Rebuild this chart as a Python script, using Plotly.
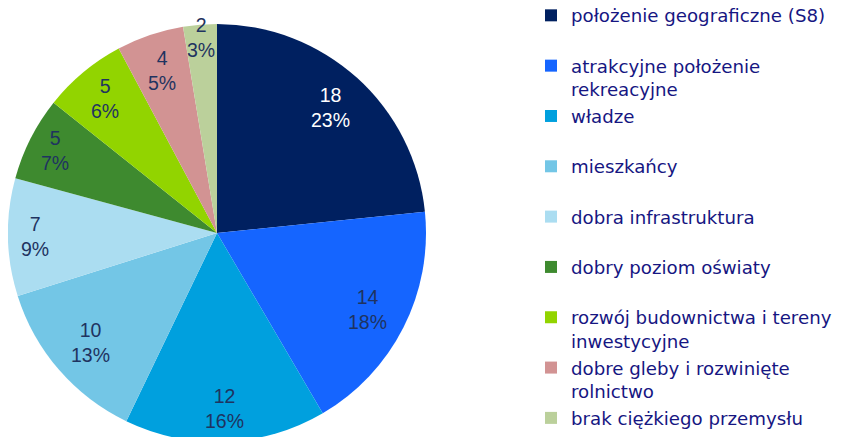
import math
import plotly.graph_objects as go

# ---- data ----
categories = [
    "położenie geograficzne (S8)",
    "atrakcyjne położenie<br>rekreacyjne",
    "władze",
    "mieszkańcy",
    "dobra infrastruktura",
    "dobry poziom oświaty",
    "rozwój budownictwa i tereny<br>inwestycyjne",
    "dobre gleby i rozwinięte<br>rolnictwo",
    "brak ciężkiego przemysłu",
]
values = [18, 14, 12, 10, 7, 5, 5, 4, 2]
percent_labels = ["23%", "18%", "16%", "13%", "9%", "7%", "6%", "5%", "3%"]

# ---- style ----
colors = ["#002060", "#1565FF", "#00A0DE", "#73C6E6", "#ABDDF1",
          "#3E8A2F", "#92D400", "#D29393", "#BBD09B"]
label_colors = ["#FFFFFF"] + ["#1F3360"] * 8
label_radius = [0.81, 0.81, 0.84, 0.80, 0.87, 0.87, 0.84, 0.82, 0.94]

W, H = 841, 437
OFF = 8                       # page body margin of the html page
CX, CY, R = 217 - OFF, 233 - OFF, 209   # pie centre / radius in figure pixels

# make every legend entry two lines tall so entries are evenly spaced
legend_names = [c if "<br>" in c else c + "<br> " for c in categories]

fig = go.Figure(go.Pie(
    labels=legend_names,
    values=values,
    sort=False,
    direction="clockwise",
    rotation=0,
    marker=dict(colors=colors, line=dict(width=0)),
    textinfo="none",
    hoverinfo="label+value+percent",
    domain=dict(x=[(CX - R) / W, (CX + R) / W],
                y=[1 - (CY + R) / H, 1 - (CY - R) / H]),
))

# data labels placed at the mid-angle of each slice
total = sum(values)
cum = 0
annotations = []
for v, p, col, rf in zip(values, percent_labels, label_colors, label_radius):
    mid = (cum + v / 2) / total * 2 * math.pi
    cum += v
    px = CX + rf * R * math.sin(mid)
    py = CY - rf * R * math.cos(mid)
    annotations.append(dict(
        x=px / W, y=1 - py / H, xref="paper", yref="paper",
        text=f"{v}<br>{p}", showarrow=False,
        xanchor="center", yanchor="middle",
        font=dict(family="Liberation Sans, Arial, sans-serif", size=19.5, color=col),
    ))

fig.update_layout(
    width=W, height=H,
    margin=dict(l=0, r=0, t=0, b=0, autoexpand=False),
    paper_bgcolor="white",
    plot_bgcolor="white",
    annotations=annotations,
    showlegend=True,
    legend=dict(
        x=(531 - OFF) / W, y=1 + 11 / H, xanchor="left", yanchor="top",
        valign="top",
        maxheight=700,
        font=dict(family="DejaVu Sans, sans-serif", size=18.2, color="#161682"),
        bgcolor="rgba(0,0,0,0)",
        traceorder="normal",
    ),
)

fig.write_html("out.html")
